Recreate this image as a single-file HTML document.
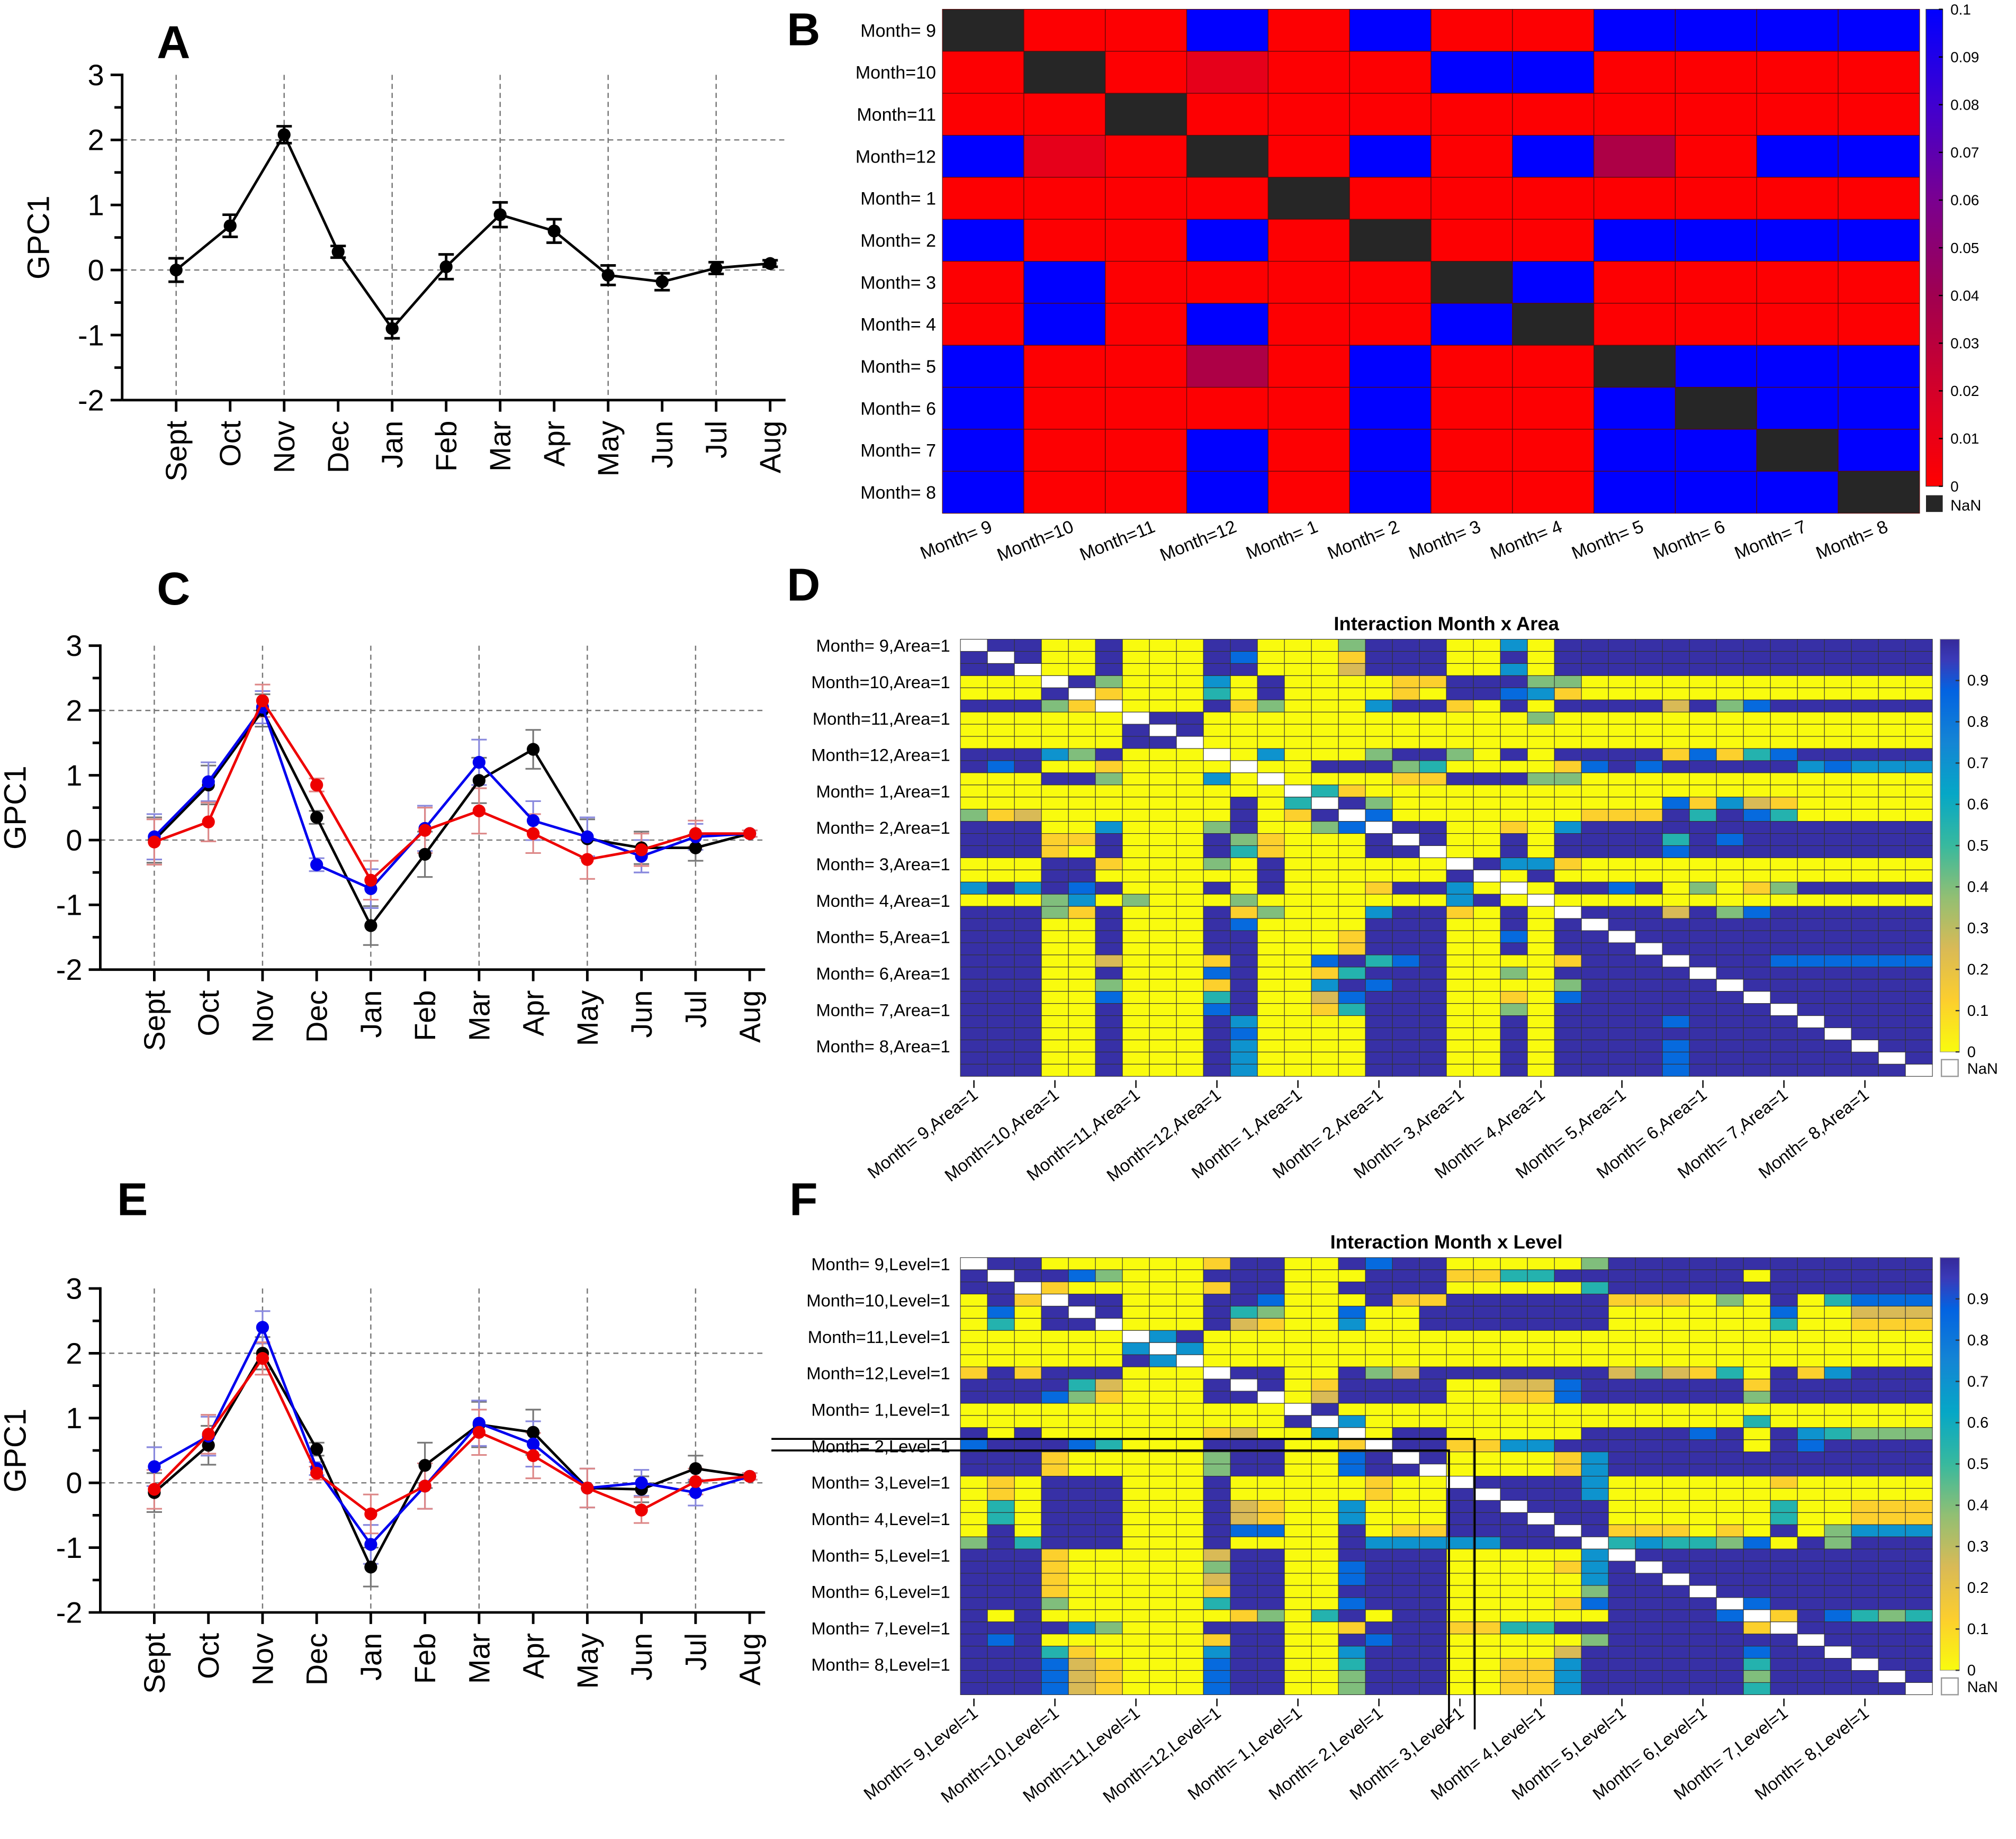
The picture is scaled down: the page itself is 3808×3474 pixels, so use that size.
<!DOCTYPE html>
<html><head><meta charset="utf-8"><style>
html,body{margin:0;padding:0;background:#fff;}
svg{display:block;font-family:"Liberation Sans",Arial,sans-serif;}
</style></head><body>
<svg id="fig" xmlns="http://www.w3.org/2000/svg" width="3808" height="3474" viewBox="0 0 1568 1430">
<rect width="1568" height="1430" fill="#fff"/>
<g id="root"></g>
</svg>
<script>
// ---------- data ----------
const months = ["Sept","Oct","Nov","Dec","Jan","Feb","Mar","Apr","May","Jun","Jul","Aug"];
const yTicks = [3,2,1,0,-1,-2];
const aVals = [0,0.68,2.08,0.28,-0.9,0.05,0.85,0.6,-0.08,-0.18,0.03,0.1];
const aErr  = [0.18,0.17,0.13,0.09,0.15,0.19,0.19,0.18,0.15,0.13,0.09,0.05];
const cBlack = [0,0.85,2.0,0.35,-1.32,-0.22,0.92,1.4,0.02,-0.12,-0.12,0.1];
const cBlue  = [0.05,0.9,2.05,-0.38,-0.75,0.18,1.2,0.3,0.05,-0.25,0.05,0.1];
const cRed   = [-0.03,0.28,2.15,0.85,-0.62,0.15,0.45,0.1,-0.3,-0.15,0.1,0.1];
const cErr   = [0.35,0.3,0.25,0.1,0.3,0.35,0.35,0.3,0.3,0.25,0.2,0.05];
const eBlack = [-0.15,0.58,2.0,0.52,-1.3,0.27,0.9,0.78,-0.08,-0.1,0.22,0.1];
const eBlue  = [0.25,0.72,2.4,0.22,-0.95,-0.05,0.92,0.6,-0.08,0.0,-0.15,0.1];
const eRed   = [-0.1,0.75,1.92,0.15,-0.48,-0.05,0.78,0.42,-0.08,-0.42,0.02,0.1];
const eErr   = [0.3,0.3,0.25,0.1,0.3,0.35,0.35,0.35,0.3,0.2,0.2,0.05];

const bLabels = ["Month= 9","Month=10","Month=11","Month=12","Month= 1","Month= 2","Month= 3","Month= 4","Month= 5","Month= 6","Month= 7","Month= 8"];
// p-values matrix for panel B (codes: R~0.001, D~0.012, P~0.035, B~0.1, K=NaN)
const bRows = ["KRRBRBRRBBBB","RKRDRRBBRRRR","RRKRRRRRRRRR","BDRKRBRBPRBB","RRRRKRRRRRRR","BRRBRKRRBBBB","RBRRRRKBRRRR","RBRBRRBKRRRR","BRRPRBRRKBBB","BRRRRBRRBKBB","BRRBRBRRBBKB","BRRBRBRRBBBK"];
const bCodeVals = {R:0.001,D:0.012,P:0.035,B:0.1,K:null};
const bCbTicks = [0.1,0.09,0.08,0.07,0.06,0.05,0.04,0.03,0.02,0.01,0];

// panels D / F (codes: Y~0, o~0.12, k~0.25, g~0.4, c~0.55, l~0.7, m~0.85, B~0.98, W=NaN)
const hCodeVals = {Y:0.0,o:0.12,k:0.25,g:0.4,c:0.55,l:0.7,m:0.85,B:0.98,W:null};
const dRows = [
"WBBYYBYYYBBYYYgBBBYYlYBBBBBBBBBBBBBB",
"BWBYYBYYYBmYYYoBBBYYBYBBBBBBBBBBBBBB",
"BBWYYBYYYBBYYYkBBBYYlYBBBBBBBBBBBBBB",
"YYYWBgYYYlYBYYYYooBBBggYYYYYYYYYYYYY",
"YYYBWoYYYcYBYYYYoYBBmloYYYYYYYYYYYYY",
"BBBgoWYYYBogYYYlBBoYBYBBBBkBgmBBBBBB",
"YYYYYYWBBYYYYYYYYYYYYgYYYYYYYYYYYYYY",
"YYYYYYBWBYYYYYYYYYYYYYYYYYYYYYYYYYYY",
"YYYYYYBBWYYYYYYYYYYYYYYYYYYYYYYYYYYY",
"BBBlgBYYYWYlYYYgBBgYBYBBBBomocmBBBBB",
"BmBYYoYYYYWYYBBBgcYYYYomBmBBBBBlmlll",
"YYYBBgYYYlYWYYYYooBBBggYYYYYYYYYYYYY",
"YYYYYYYYYYYYWcoYYYYYYYYYYYYYYYYYYYYY",
"YYYYYYYYYYBYcWBgYYYYYYYYYYmolkoYYYYY",
"gokYYYYYYYBYoBWmYYYYYYYoooBcBmcYYYYY",
"BBBYYlYYYgBYYgmWBBYYoYlBBBBBBBBBBBBB",
"BBBooBYYYBgoYYYBWBYYBYBBBBcBmBBBBBBB",
"BBBoYBYYYBcoYYYBBWYYBYBBBBmBBBBBBBBB",
"YYYBBoYYYgYBYYYYYYWBlloYYYYYYYYYYYYY",
"YYYBBYYYYYYBYYYYYYBWYBYYYYYYYYYYYYYY",
"lBlBmBYYYBYBYYYoBBlYWYBBmBYgYogBBBBB",
"YYYglYgYYYgYYYYYYYlBYWYYYYYYYYYYYYYY",
"BBBgoBYYYBogYYYlBBoYBYWBBBkBgmBBBBBB",
"BBBYYBYYYBmYYYYBBBYYBYBWBBBBBBBBBBBB",
"BBBYYBYYYBBYYYoBBBYYmYBBWBBBBBBBBBBB",
"BBBYYBYYYBBYYYoBBBYYBYBBBWBBBBBBBBBB",
"BBBYYkYYYoBYYmBcmBYYYYoBBBWBBBmmmmmm",
"BBBYYBYYYmBYYocBBBYYgYBBBBBWBBBBBBBB",
"BBBYYgYYYoBYYlBmBBYYYYgBBBBBWBBBBBBB",
"BBBYYmYYYcBYYkmBBBYYoYmBBBBBBWBBBBBB",
"BBBYYBYYYmBYYocBBBYYgYBBBBBBBBWBBBBB",
"BBBYYBYYYBlYYYYBBBYYBYBBBBmBBBBWBBBB",
"BBBYYBYYYBmYYYYBBBYYBYBBBBBBBBBBWBBB",
"BBBYYBYYYBlYYYYBBBYYBYBBBBmBBBBBBWBB",
"BBBYYBYYYBlYYYYBBBYYBYBBBBmBBBBBBBWB",
"BBBYYBYYYBlYYYYBBBYYBYBBBBmBBBBBBBBW"];
const fRows = [
"WBBYYYYYYoBBYYBmBBYYYYYgBBBBBBBBBBBB",
"BWBBmgYYYBBBYYYBBBooccBBBBBBBYBBBBBB",
"BBWoYYYYYoBBYYBBBBYYYYYcBBBBBBBBBBBB",
"YBoWBBYYYBBmYYYBooBBBBBBoooYgYBYcmmm",
"YmYBWBYYYBcgYYmYYBBBBBBBYYYYYYmYYkkk",
"YcYBBWYYYBkoYYlYYBBBBBBBYYYYYYcYYooo",
"YYYYYYWlBYYYYYYYYYYYYYYYYYYYYYYYYYYY",
"YYYYYYlWlYYYYYYYYYYYYYYYYYYYYYYYYYYY",
"YYYYYYBlWYYYYYYYYYYYYYYYYYYYYYYYYYYY",
"oBoBBBYYYWBBYYBgkBBBBBBBkgkocYBolBBB",
"BBBBckYYYBWBYoBBBBYYkkmBBBBBBoBBBBBB",
"BBBmgoYYYBBWYkBBBBYYoomBBBBBBgBBBBBB",
"YYYYYYYYYYYYWBYYYYYYYYYYYYYYYYYYYYYY",
"YYYYYYYYYYYYBWlYYYYYYYYYYYYYYcYYYYYY",
"BYBYYYYYYokYYlWYBBYYYYYBBBBmBYBlcggg",
"mBBBmcYYYBBBYYoWBBoollBBBBBBBYBmBBBB",
"BBBoYYYYYgBBYYmBWBYYYYolBBBBBBBBBBBB",
"BBBoYYYYYgBBYYmBBWYYYYolBBBBBBBBBBBB",
"YoYBBBYYYBYYYYYoYYWBBBBlYYYYYYoYYYYY",
"YoYBBBYYYBYYYYYoYYBWBBBlYYYYYYYYYYYY",
"YcYBBBYYYBkoYYlYYYBBWBBBYYYYYYcYYooo",
"YcYBBBYYYBkoYYlYYYBBBWBBYYYYYYcYYooo",
"YBYBBBYYYBmmYYBYooBBBBWBoooYoYBYglll",
"gBcBBBYYYBYYYYBlllllBBBWclccgmYBgBBB",
"BBBoYYYYYkBBYYBBBBYYYYYlWBBBBBBBBBBB",
"BBBoYYYYYgBBYYmBBBYYYYolBWBBBBBBBBBB",
"BBBoYYYYYkBBYYmBBBYYYYYlBBWBBBBBBBBB",
"BBBoYYYYYoBBYYBBBBYYYYYgBBBWBBBBBBBB",
"BBBgYYYYYcBBYYmBBBYYYYomBBBBWmBBBBBB",
"BYBYYYYYYYogYcBYBBYYYYYYBBBBmWoBmcgc",
"BBBBlgYYYBBBYYoBBBooccBBBBBBBoWBBBBB",
"BmBYYYYYYoBBYYBmBBYYYYYgBBBBBBBWBBBB",
"BBBcoYYYYlBBYYlBBBYYYYkBBBBBBmBBWBBB",
"BBBmkoYYYmBBYYcBBBYYoolBBBBBBcBBBWBB",
"BBBmkoYYYmBBYYgBBBYYoolBBBBBBgBBBBWB",
"BBBmkoYYYmBBYYgBBBYYoolBBBBBBcBBBBBW"];
const dLabelMonths = ["9","10","11","12","1","2","3","4","5","6","7","8"];
const hCbTicks = [0.9,0.8,0.7,0.6,0.5,0.4,0.3,0.2,0.1,0];

// ---------- helpers ----------
const NS="http://www.w3.org/2000/svg";
const root=document.getElementById('root');
function mk(tag,attrs,parent,text){const e=document.createElementNS(NS,tag);for(const k in attrs)e.setAttribute(k,attrs[k]);if(text!==undefined)e.textContent=text;(parent||root).appendChild(e);return e;}

function letter(t,x,y){
  const e=mk('text',{x:x,y:y,'font-size':36,'font-weight':'bold','text-anchor':'middle'},root,t);
  
  
}
letter('A',135,45);letter('B',625,35);letter('C',135,470);letter('D',625,467);letter('E',103,945);letter('F',625,945);

function lineChart(id,axX,y3,yM2,x0,dx,series,errs,colors,errColors,ylabX){
  const g=mk('g',{});
  
  
  const ys=v=>y3+(3-v)*(yM2-y3)/5;
  const xs=i=>x0+i*dx;
  const xEnd=xs(months.length-1)+12;
  // grid
  [2,0].forEach(v=>{const l=mk('line',{x1:axX,x2:xEnd,y1:ys(v),y2:ys(v),stroke:'#777','stroke-width':1,'stroke-dasharray':'4,3'},g);
    });
  months.forEach((m,i)=>{ if(i%2===0){const l=mk('line',{x1:xs(i),x2:xs(i),y1:y3,y2:yM2,stroke:'#777','stroke-width':1,'stroke-dasharray':'4,3'},g);
    }});
  // axes
  const ya=mk('line',{x1:axX,x2:axX,y1:y3-1,y2:yM2,stroke:'#000','stroke-width':2},g);
  
  const xa=mk('line',{x1:axX,x2:xEnd,y1:yM2,y2:yM2,stroke:'#000','stroke-width':2},g);
  
  for(let v=-2;v<=3;v+=0.5){const major=Number.isInteger(v);
    mk('line',{x1:axX-(major?9:6),x2:axX,y1:ys(v),y2:ys(v),stroke:'#000','stroke-width':2},g);}
  yTicks.forEach(v=>{const t=mk('text',{x:axX-14,y:ys(v)+8,'font-size':23,'text-anchor':'end'},g,String(v));
    });
  months.forEach((m,i)=>{mk('line',{x1:xs(i),x2:xs(i),y1:yM2,y2:yM2+9,stroke:'#000','stroke-width':2},g);
    const t=mk('text',{x:0,y:0,'font-size':23,'text-anchor':'end',transform:`translate(${xs(i)+8},${yM2+16}) rotate(-90)`},g,m);
    });
  const yl=mk('text',{x:0,y:0,'font-size':24,'text-anchor':'middle',transform:`translate(${ylabX},${ys(0.5)}) rotate(-90)`},g,'GPC1');
  
  // error bars
  series.forEach((s,k)=>{s.forEach((v,i)=>{const e=errs[k][i];
    const eb=mk('path',{d:`M${xs(i)},${ys(v+e)}V${ys(v-e)}M${xs(i)-6},${ys(v+e)}h12M${xs(i)-6},${ys(v-e)}h12`,stroke:errColors[k],'stroke-width':k===0&&series.length===1?2:1.3,fill:'none'},g);
    });});
  series.forEach((s,k)=>{
    const p=mk('polyline',{points:s.map((v,i)=>xs(i)+','+ys(v)).join(' '),fill:'none',stroke:colors[k],'stroke-width':2},g);
    
    s.forEach((v,i)=>{const c=mk('circle',{cx:xs(i),cy:ys(v),r:5,fill:colors[k]},g);
      });
  });
}
lineChart('a',95,58,311,137,42,[aVals],[aErr],['#000'],['#000'],38);
lineChart('c',78,502,754,120,42.1,[cBlack,cBlue,cRed],[cErr,cErr,cErr],['#000','#0000ee','#ee0000'],['#777','#8888dd','#dd8888'],20);
lineChart('e',78,1002,1254,120,42.1,[eBlack,eBlue,eRed],[eErr,eErr,eErr],['#000','#0000ee','#ee0000'],['#777','#8888dd','#dd8888'],20);

// ---------- colors ----------
function lerp(a,b,t){return Math.round(a+(b-a)*t);}
function hex(h){return [parseInt(h.slice(1,3),16),parseInt(h.slice(3,5),16),parseInt(h.slice(5,7),16)];}
function ramp(stops,t){t=Math.max(0,Math.min(1,t));for(let i=1;i<stops.length;i++){if(t<=stops[i][0]){const a=stops[i-1],b=stops[i];const u=(t-a[0])/(b[0]-a[0]);const ca=hex(a[1]),cb=hex(b[1]);return `rgb(${lerp(ca[0],cb[0],u)},${lerp(ca[1],cb[1],u)},${lerp(ca[2],cb[2],u)})`;}}return stops[stops.length-1][1];}
const rbStops=[[0,'#ff0000'],[0.15,'#e00020'],[0.4,'#a00050'],[0.6,'#7a0090'],[0.8,'#4000d0'],[1,'#0000ff']];
const parStops=[[0,'#f9fb0e'],[0.125,'#fcce2e'],[0.25,'#d9ba56'],[0.375,'#92bf73'],[0.5,'#38b99e'],[0.625,'#06a7c6'],[0.75,'#1485d4'],[0.875,'#0363e1'],[0.95,'#3a3ab8'],[1,'#352a9a']];

// ---------- panel B ----------
(function(){
  const g=mk('g',{});
  const X0=733,Y0=7,W=760,H=392,n=12,cw=W/n,ch=H/n;
  bRows.forEach((row,r)=>{[...row].forEach((c,j)=>{const v=bCodeVals[c];
    const rc=mk('rect',{x:X0+j*cw,y:Y0+r*ch,width:cw,height:ch,fill:v===null?'#262626':ramp(rbStops,v/0.1),stroke:'#5a0a0a','stroke-width':0.5},g);
    });});
  bLabels.forEach((l,i)=>{const t=mk('text',{x:X0-5,y:Y0+(i+0.5)*ch+5,'font-size':14,'text-anchor':'end'},g,l);
    
    const t2=mk('text',{x:0,y:0,'font-size':14,'text-anchor':'end',transform:`translate(${X0+(i+0.5)*cw+8},${Y0+H+14}) rotate(-22)`},g,l);
    });
  const defs=mk('defs',{},g);const lg=mk('linearGradient',{id:'gb',x1:0,y1:1,x2:0,y2:0},defs);
  rbStops.forEach(s=>mk('stop',{offset:s[0],'stop-color':s[1]},lg));
  const cb=mk('rect',{x:1498,y:7,width:13,height:371,fill:'url(#gb)',stroke:'#333','stroke-width':0.5},g);
  
  bCbTicks.forEach(v=>{const y=378-v/0.1*371;mk('line',{x1:1508,x2:1511,y1:y,y2:y,stroke:'#000'},g);
    const t=mk('text',{x:1517,y:y+4,'font-size':11.5},g,String(v));});
  mk('rect',{x:1498,y:385,width:13,height:13,fill:'#262626'},g);
  const nt=mk('text',{x:1517,y:397,'font-size':12},g,'NaN');
})();

// ---------- panels D/F ----------
function bigHeat(id,rows,Y0,title,lev){
  const g=mk('g',{});
  const X0=747,W=756,H=340,n=36,cw=W/n,ch=H/n;
  const tt=mk('text',{x:X0+W/2,y:Y0-7,'font-size':15,'font-weight':'bold','text-anchor':'middle'},g,title);
  
  rows.forEach((row,r)=>{[...row].forEach((c,j)=>{const v=hCodeVals[c];
    const rc=mk('rect',{x:X0+j*cw,y:Y0+r*ch,width:cw,height:ch,fill:v===null?'#ffffff':ramp(parStops,v),stroke:'#333','stroke-width':0.45},g);
    });});
  dLabelMonths.forEach((m,i)=>{const lab='Month='+(m.length<2?' '+m:m)+','+lev+'=1';
    const t=mk('text',{x:X0-8,y:Y0+(3*i+0.5)*ch+5,'font-size':13.5,'text-anchor':'end'},g,lab);
    
    const cx=X0+(3*i+0.5)*cw;
    mk('line',{x1:cx,x2:cx,y1:Y0+H+3,y2:Y0+H+9,stroke:'#000'},g);
    const t2=mk('text',{x:0,y:0,'font-size':13.5,'text-anchor':'end',transform:`translate(${cx+4},${Y0+H+16}) rotate(-38)`},g,lab);
    });
  const defs=mk('defs',{},g);const lg=mk('linearGradient',{id:'gp'+id,x1:0,y1:1,x2:0,y2:0},defs);
  parStops.forEach(s=>mk('stop',{offset:s[0],'stop-color':s[1]},lg));
  const cbTop=Y0,cbBot=Y0+321;
  const cb=mk('rect',{x:1509,y:cbTop,width:15,height:cbBot-cbTop,fill:`url(#gp${id})`,stroke:'#999','stroke-width':0.5},g);
  
  hCbTicks.forEach(v=>{const y=cbBot-v*(cbBot-cbTop);mk('line',{x1:1521,x2:1524,y1:y,y2:y,stroke:'#333'},g);
    const t=mk('text',{x:1530,y:y+4,'font-size':12},g,String(v));});
  mk('rect',{x:1510,y:Y0+327,width:13,height:13,fill:'#fff',stroke:'#999'},g);
  const nt=mk('text',{x:1530,y:Y0+338,'font-size':12},g,'NaN');
  return g;
}
bigHeat('d',dRows,497,'Interaction Month x Area','Area');
const gf=bigHeat('f',fRows,978,'Interaction Month x Level','Level');
const ov=mk('path',{d:'M600,1119H1147V1345M600,1128H1127V1345',fill:'none',stroke:'#000','stroke-width':1.5},gf);


</script>
</body></html>
